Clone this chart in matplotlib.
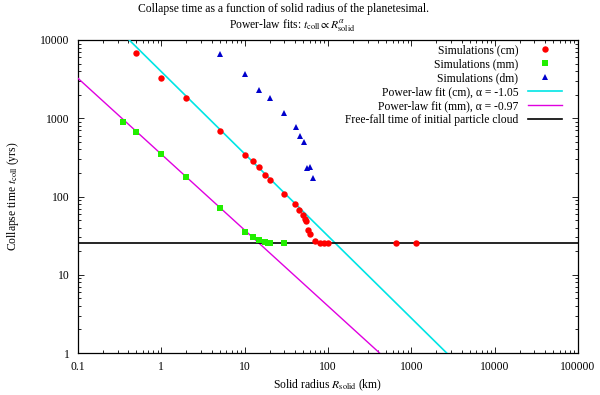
import numpy as np
import matplotlib
matplotlib.use("Agg")
import matplotlib.pyplot as plt

FS = 8.4
plt.rcParams['font.family'] = ['Liberation Serif', 'DejaVu Serif']
plt.rcParams['mathtext.fontset'] = 'stix'
plt.rcParams['font.size'] = FS

# Data
R_cm = [0.5, 1, 2, 5, 10, 12.5, 15, 17.5, 20, 30, 40, 45, 50, 52.5, 55, 57.5, 60, 70, 80, 90, 100, 650, 1150]
t_cm = [6800, 3300, 1800, 680, 342, 287, 241, 188, 163, 109, 80, 67, 58, 52, 48, 37, 33, 27, 25.7, 25.5, 25.5, 25.5, 25.5]

R_mm = [0.35, 0.5, 1, 2, 5, 10, 12.5, 15, 17.5, 19, 20, 30]
t_mm = [900, 670, 345, 175, 71, 35.5, 30, 27.8, 26, 25.7, 25.7, 25.7]

R_dm = [5, 10, 15, 20, 30, 41, 46, 51, 56, 61, 66]
t_dm = [6620, 3700, 2270, 1815, 1157, 766, 588, 493, 229, 240, 171]

alpha_cm, A_cm = -1.05, 3937.0
alpha_mm, A_mm = -0.97, 347.0
t_freefall = 25.5

xmin, xmax = 0.1, 100000
ymin, ymax = 1, 10000

fig = plt.figure(figsize=(6.0, 3.95), dpi=100)
ax = fig.add_axes([78/600, 1-353/395, 500/600, 313/395])

Rfit = np.logspace(-1, 5, 400)
ax.plot(R_cm, t_cm, 'o', color='#ff0000', ms=4.6, mew=0, label='Simulations (cm)', zorder=4)
ax.plot(R_mm, t_mm, 's', color='#22ee00', ms=4.5, mew=0, label='Simulations (mm)', zorder=4)
ax.plot(R_dm, t_dm, '^', color='#0000cc', ms=4.2, mew=0, label='Simulations (dm)', zorder=4)
ax.plot(Rfit, A_cm * Rfit**alpha_cm, '-', color='#00e5e5', lw=1.2, label='Power-law fit (cm), α = -1.05', zorder=3)
ax.plot(Rfit, A_mm * Rfit**alpha_mm, '-', color='#e000e0', lw=1.0, label='Power-law fit (mm), α = -0.97', zorder=3)
ax.plot([xmin, xmax], [t_freefall, t_freefall], '-', color='black', lw=1.2, label='Free-fall time of initial particle cloud', zorder=3)

ax.set_xscale('log')
ax.set_yscale('log')
ax.set_xlim(xmin, xmax)
ax.set_ylim(ymin, ymax)
xt = [0.1, 1, 10, 100, 1000, 10000, 100000]
yt = [1, 10, 100, 1000, 10000]
ax.set_xticks(xt)
ax.set_xticklabels(['0.1', '1', '10', '100', '1000', '10000', '100000'])
ax.set_yticks(yt)
ax.set_yticklabels(['1', '10', '100', '1000', '10000'])
ax.tick_params(which='both', direction='in', top=True, right=True, width=0.6)
ax.tick_params(which='major', length=4, labelsize=FS, pad=6)
ax.tick_params(which='minor', length=2)
for s in ax.spines.values():
    s.set_linewidth(0.9)

ax.set_xlabel(r'Solid radius $R_{\mathrm{solid}}$ (km)', labelpad=3)
ax.set_ylabel(r'Collapse time $t_{\mathrm{coll}}$ (yrs)', labelpad=14)

fig.text(0.473, 0.978, 'Collapse time as a function of solid radius of the planetesimal.',
         ha='center', va='center', fontsize=FS)
fig.text(0.487, 0.935, r'Power-law fits: $t_{\mathrm{coll}} \propto R_{\mathrm{solid}}^{\alpha}$',
         ha='center', va='center', fontsize=FS)

leg = ax.legend(loc='upper right', bbox_to_anchor=(1 - 16/500, 1 - 4/313), frameon=False,
                markerfirst=False, numpoints=1, handlelength=2.9, handletextpad=0.86,
                labelspacing=0.17, borderpad=0, borderaxespad=0, fontsize=FS)
for col in leg._legend_handle_box.get_children():
    col.align = 'right'

fig.savefig('out.png', dpi=100)
